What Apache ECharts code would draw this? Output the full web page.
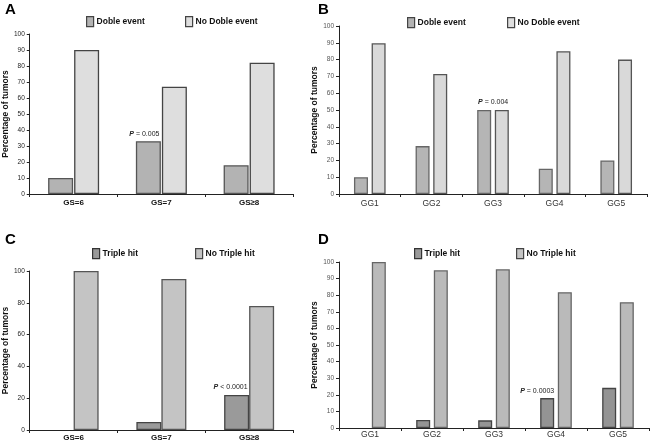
<!DOCTYPE html>
<html>
<head>
<meta charset="utf-8">
<script src="https://cdn.jsdelivr.net/npm/echarts@6/dist/echarts.min.js"></script>
<style>html,body{margin:0;padding:0;background:#fff}#c{width:650px;height:445px}</style>
</head>
<body>
<div id="c"></div>
<script>
// ---- data ----
const catsGS = ['GS=6', 'GS=7', 'GS\u22658'];
const catsGG = ['GG1', 'GG2', 'GG3', 'GG4', 'GG5'];
const doubleA = [10, 33, 18];
const noDoubleA = [90, 67, 82];
const doubleB = [10, 28.5, 50, 15, 20];
const noDoubleB = [89.7, 71.5, 50, 85, 80];
const tripleC = [0, 5, 22];
const noTripleC = [100, 95, 78];
const tripleD = [0, 4.8, 4.6, 18, 24.2];
const noTripleD = [100, 95, 95.6, 81.8, 75.8];
const ticksAB = [0, 100, 10];
const ticksC = [0, 100, 20];
const pTextA = '{i|P} = 0.005', pIdxA = 1;
const pTextB = '{i|P} = 0.004', pIdxB = 2;
const pTextC = '{i|P} < 0.0001', pIdxC = 2;
const pTextD = '{i|P} = 0.0003', pIdxD = 3;
const yTitle = 'Percentage of tumors';

const FONT = 'Liberation Sans, Arial, sans-serif';
function prep(arr, idx, text, dx) {
  return arr.map((v, i) => {
    const o = { value: v };
    if (v === 0) o.itemStyle = { borderWidth: 0 };
    if (i === idx) {
      o.label = {
        show: true, position: 'top', distance: 4, offset: [dx, 0],
        formatter: text, fontSize: 7, color: '#222', fontFamily: FONT,
        rich: { i: { fontStyle: 'italic', fontWeight: 'bold', fontSize: 7, color: '#222', fontFamily: FONT } }
      };
    }
    return o;
  });
}
function xAx(gi, cats, bold, color, margin) {
  return {
    gridIndex: gi, type: 'category', data: cats,
    axisLine: { lineStyle: { color: '#222', width: 1 } },
    axisTick: { show: true, length: 3, lineStyle: { color: '#222' } },
    axisLabel: { fontSize: bold ? 8 : 8.5, fontWeight: bold ? 'bold' : 'normal', color: color, margin: margin, fontFamily: FONT }
  };
}
function yAx(gi, t, gap, lblColor) {
  return {
    gridIndex: gi, type: 'value', min: t[0], max: t[1], interval: t[2],
    name: yTitle, nameLocation: 'middle', nameGap: gap,
    nameTextStyle: { fontSize: 8.5, fontWeight: 'bold', color: '#111', fontFamily: FONT },
    axisLine: { show: true, lineStyle: { color: '#222' } },
    axisTick: { show: true, length: 3, lineStyle: { color: '#222' } },
    axisLabel: { fontSize: 6.5, color: lblColor, margin: 5, fontFamily: FONT },
    splitLine: { show: false }
  };
}
function bar(name, xi, data, color, border, bw, gap) {
  return {
    name: name, type: 'bar', xAxisIndex: xi, yAxisIndex: xi, data: data,
    barWidth: bw, barGap: gap,
    itemStyle: { color: color, borderColor: border, borderWidth: 1.3 },
    emphasis: { disabled: true }, animation: false
  };
}
function leg(name, left, top, color, border) {
  return {
    data: [name], left: left, top: top, padding: 0, itemWidth: 7, itemHeight: 10, icon: 'rect',
    selectedMode: false,
    itemStyle: { color: color, borderColor: border, borderWidth: 1.2 },
    textStyle: { fontSize: 8.5, fontWeight: 'bold', color: '#111', fontFamily: FONT, padding: [0, 0, 0, -2] }
  };
}
function letter(t, left, top) {
  return { text: t, left: left, top: top, padding: 0, textStyle: { fontSize: 15, fontWeight: 'bold', color: '#000', fontFamily: FONT } };
}

const chart = echarts.init(document.getElementById('c'), null, { renderer: 'canvas' });
chart.setOption({
  backgroundColor: '#fff',
  animation: false,
  title: [letter('A', 5, 2), letter('B', 318, 2), letter('C', 5, 232), letter('D', 318, 232)],
  legend: [
    leg('Doble event', 86, 16, '#b3b3b3', '#444'),
    leg('No Doble event', 185, 16, '#dedede', '#444'),
    leg('Doble event', 407, 17, '#b3b3b3', '#444'),
    leg('No Doble event', 507, 17, '#dedede', '#444'),
    leg('Triple hit', 92, 248, '#999999', '#333'),
    leg('No Triple hit', 195, 248, '#c4c4c4', '#444'),
    leg('Triple hit', 414, 248, '#999999', '#333'),
    leg('No Triple hit', 516, 248, '#c4c4c4', '#444')
  ],
  grid: [
    { left: 26, top: 34, width: 267, height: 160 },
    { left: 339, top: 26, width: 308, height: 168 },
    { left: 28, top: 271, width: 265, height: 159 },
    { left: 339, top: 262, width: 310, height: 166 }
  ],
  xAxis: [
    xAx(0, catsGS, true, '#111', 5), xAx(1, catsGG, false, '#333', 5),
    xAx(2, catsGS, true, '#111', 4), xAx(3, catsGG, false, '#333', 2)
  ],
  yAxis: [
    yAx(0, ticksAB, 17, '#222'), yAx(1, ticksAB, 18, '#555'),
    yAx(2, ticksC, 17, '#222'), yAx(3, ticksAB, 18, '#555')
  ],
  series: [
    bar('Doble event', 0, prep(doubleA, pIdxA, pTextA, -4), '#b3b3b3', '#555', 25, '4%'),
    bar('No Doble event', 0, prep(noDoubleA, -1), '#dedede', '#444', 25, '4%'),
    bar('Doble event', 1, prep(doubleB, pIdxB, pTextB, 9), '#b5b5b5', '#666', 14, '26%'),
    bar('No Doble event', 1, prep(noDoubleB, -1), '#d9d9d9', '#555', 14, '26%'),
    bar('Triple hit', 2, prep(tripleC, pIdxC, pTextC, -6), '#9a9a9a', '#444', 25, '0%'),
    bar('No Triple hit', 2, prep(noTripleC, -1), '#c4c4c4', '#555', 25, '0%'),
    bar('Triple hit', 3, prep(tripleD, pIdxD, pTextD, -10), '#949494', '#444', 14, '26%'),
    bar('No Triple hit', 3, prep(noTripleD, -1), '#bababa', '#666', 14, '26%')
  ]
});
</script>
</body>
</html>
